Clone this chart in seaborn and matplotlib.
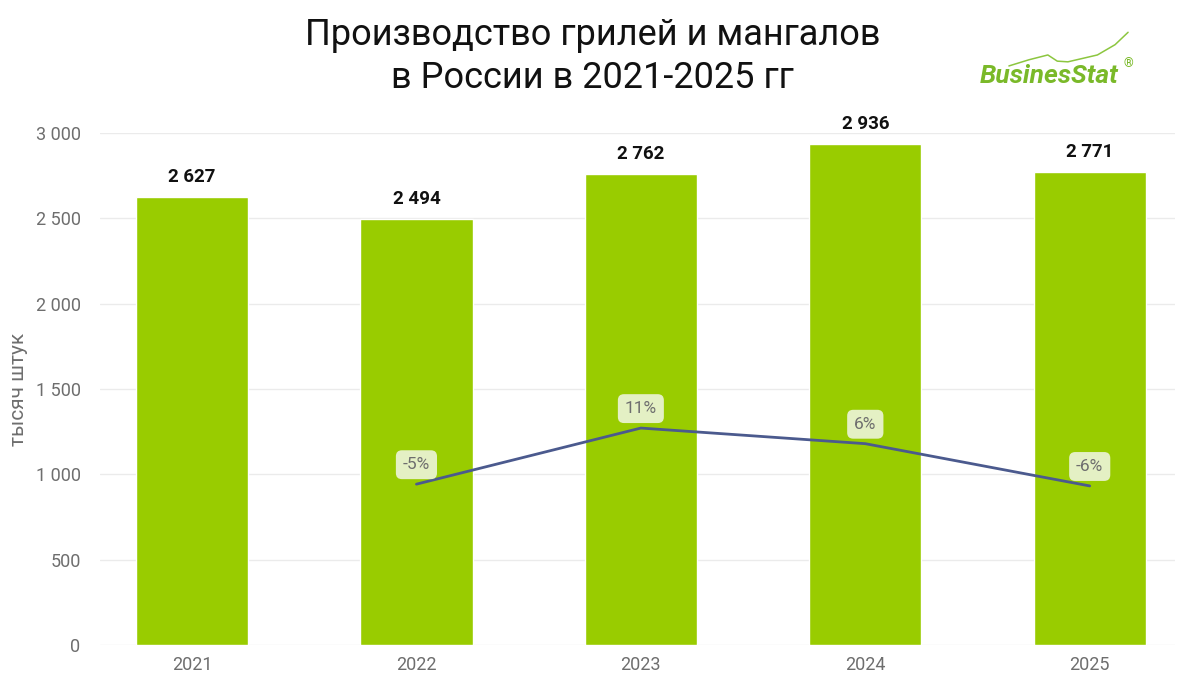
import matplotlib.pyplot as plt
import seaborn as sns
import pandas as pd
import numpy as np

years = ["2021", "2022", "2023", "2024", "2025"]
output = [2627, 2494, 2762, 2936, 2771]
growth_years = ["2022", "2023", "2024", "2025"]
growth = [-5.1, 10.7, 6.3, -5.6]
growth_labels = ["-5%", "11%", "6%", "-6%"]

BAR = "#99CC00"
LINE = "#4B5A8E"
GREY = "#6E6E6E"

sns.set_theme(style="whitegrid")
plt.rcParams["font.family"] = ["Roboto", "DejaVu Sans"]

df = pd.DataFrame({"year": years, "value": output})

fig = plt.figure(figsize=(11.8, 6.87), dpi=100)
ax = fig.add_axes([100 / 1180, 42 / 687, 1075 / 1180, 512 / 687])

sns.barplot(data=df, x="year", y="value", color=BAR, width=0.5,
            saturation=1, ax=ax, zorder=2)

ax.set_ylim(0, 3000)
ax.set_xlim(-0.41, 4.38)
ax.set_yticks(range(0, 3001, 500))
ax.set_yticklabels([f"{v:,}".replace(",", " ") for v in range(0, 3001, 500)])
ax.tick_params(axis="both", labelsize=13, colors=GREY, length=0)
ax.tick_params(axis="y", pad=14)
ax.tick_params(axis="x", pad=8)
ax.grid(axis="y", color="#EBEBEB", linewidth=1)
ax.grid(axis="x", visible=False)
ax.set_xlabel("")
ax.set_ylabel("тысяч штук", fontsize=15, color=GREY)
ax.yaxis.set_label_coords(-72 / 1075, 0.5)
for s in ax.spines.values():
    s.set_visible(False)

for i, v in enumerate(output):
    ax.annotate(f"{v:,}".replace(",", " "), (i, v), xytext=(0, 8),
                textcoords="offset points", ha="center", va="bottom",
                fontsize=13.5, fontweight="bold", color="#111111")

# growth line on hidden secondary axis
ax2 = ax.twinx()
ax2.set_ylim(-50.4, 93.8)
xpos = [years.index(y) for y in growth_years]
sns.lineplot(x=xpos, y=growth, color=LINE, linewidth=2, ax=ax2, zorder=3)
ax2.set_axis_off()
ax2.grid(False)
for x, g, lab in zip(xpos, growth, growth_labels):
    ax2.annotate(lab, (x, g), xytext=(0, 14), textcoords="offset points",
                 ha="center", va="center", fontsize=12.5, color=GREY,
                 bbox=dict(boxstyle="round,pad=0.4,rounding_size=0.35",
                           fc="#E4F0C4", ec="none"))

fig.text(0.502, 0.918, "Производство грилей и мангалов\nв России в 2021-2025 гг",
         ha="center", va="center", fontsize=26, color="#111111",
         linespacing=1.25)

# logo
fig.text(0.83, 0.89, "BusinesStat", fontsize=19, fontweight="bold",
         style="italic", color="#7AB929", ha="left", va="center")
fig.text(0.952, 0.908, "®", fontsize=9, color="#7AB929", ha="left", va="center")
lx = np.array([0.855, 0.872, 0.888, 0.896, 0.905, 0.93, 0.945, 0.956])
ly = np.array([0.904, 0.913, 0.92, 0.911, 0.91, 0.92, 0.935, 0.953])
fig.add_artist(plt.Line2D(lx, ly, color="#8CC63F", linewidth=1.1,
                          transform=fig.transFigure))

fig.savefig("out.png", dpi=100)
